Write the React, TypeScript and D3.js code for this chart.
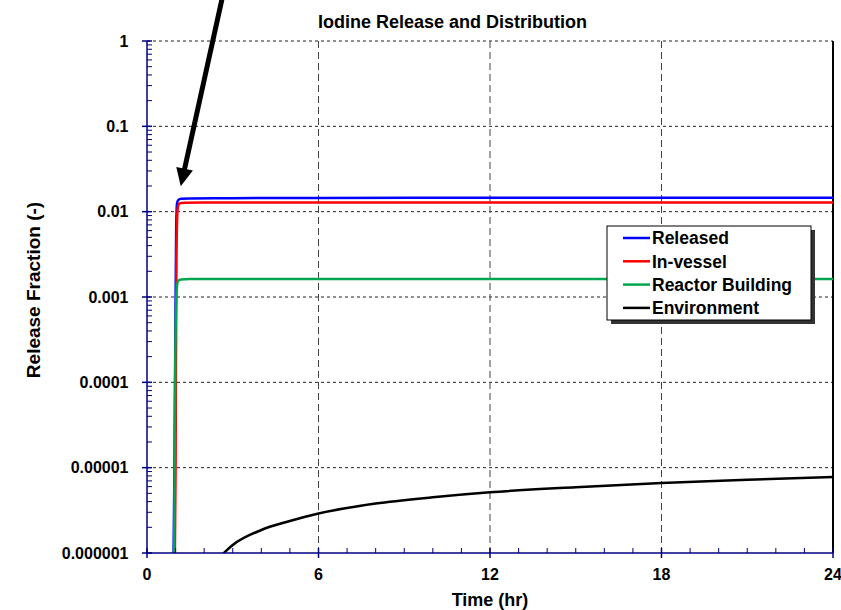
import React from "react";
import * as d3 from "d3";

const W = 841;
const H = 610;

const titleText = "Iodine Release and Distribution";
const xLabel = "Time (hr)";
const yLabel = "Release Fraction (-)";

const xTicks = [0, 6, 12, 18, 24];
const yTicks = [1, 0.1, 0.01, 0.001, 0.0001, 0.00001, 0.000001];
const yTickLabels = ["1", "0.1", "0.01", "0.001", "0.0001", "0.00001", "0.000001"];

const releasedT = [0.9, 0.96, 0.99, 1.02, 1.05, 1.1, 1.2, 1.5, 3, 6, 12, 24];
const releasedV = [1e-7, 1e-5, 3e-4, 0.006, 0.0125, 0.0138, 0.0142, 0.0143, 0.0144, 0.0145, 0.0146, 0.0146];

const inVesselT = [0.95, 1.0, 1.03, 1.07, 1.1, 1.15, 1.3, 2, 6, 12, 24];
const inVesselV = [1e-7, 1e-5, 3e-3, 0.0105, 0.012, 0.0125, 0.0127, 0.0128, 0.0128, 0.0128, 0.0128];

const buildingT = [0.9, 0.95, 0.99, 1.04, 1.09, 1.2, 1.5, 3, 24];
const buildingV = [1e-7, 1e-6, 2e-4, 0.0012, 0.00155, 0.0016, 0.00162, 0.00163, 0.00163];

const envT = [2.62, 3, 4, 5, 6, 8, 10, 12, 15, 18, 21, 24];
const envV = [0.95e-6, 1.24e-6, 1.86e-6, 2.37e-6, 2.9e-6, 3.8e-6, 4.5e-6, 5.15e-6, 5.9e-6, 6.6e-6, 7.2e-6, 7.75e-6];

const seriesNames = ["Released", "In-vessel", "Reactor Building", "Environment"];
const seriesColors = ["#0000ff", "#ff0000", "#00a650", "#000000"];

// annotation arrow (data units): start (off-chart) -> tip
const arrowFrom = { t: 2.62, v: 3.06 };
const arrowTo = { t: 1.18, v: 0.0198 };

const FONT = "'Liberation Sans', Arial, Helvetica, sans-serif";

export default function App() {
  const x = d3.scaleLinear().domain([0, 24]).range([147, 833]);
  const y = d3.scaleLog().domain([1e-6, 1]).range([553, 41]);
  const [x0, x1] = x.range();
  const [y0, y1] = [y(1), y(1e-6)];

  const series = [
    releasedT.map((t, i) => [t, releasedV[i]]),
    inVesselT.map((t, i) => [t, inVesselV[i]]),
    buildingT.map((t, i) => [t, buildingV[i]]),
    envT.map((t, i) => [t, envV[i]]),
  ];
  const line = d3
    .line<number[]>()
    .x((d) => x(d[0]))
    .y((d) => y(d[1]))
    .curve(d3.curveMonotoneX);

  const minorX = d3.range(0, 25, 1).filter((v) => v % 6 !== 0);
  const minorY: number[] = [];
  for (let e = -6; e < 0; e++) {
    for (let m = 2; m <= 9; m++) minorY.push(m * Math.pow(10, e));
  }

  // arrow geometry
  const ax0 = x(arrowFrom.t), ay0 = y(arrowFrom.v);
  const ax1 = x(arrowTo.t), ay1 = y(arrowTo.v);
  const dx = ax1 - ax0, dy = ay1 - ay0;
  const len = Math.hypot(dx, dy);
  const ux = dx / len, uy = dy / len;
  const headL = 18, headW = 8.5;
  const bx = ax1 - ux * headL, by = ay1 - uy * headL;
  const head = `${ax1},${ay1} ${bx - uy * headW},${by + ux * headW} ${bx + uy * headW},${by - ux * headW}`;

  const legX = 607, legY = 226, legW = 204, legH = 94;

  return (
    <svg
      width={W}
      height={H}
      style={{ position: "absolute", left: 0, top: 0, background: "#fff" }}
      fontFamily={FONT}
      fontWeight="bold"
    >
      <defs>
        <clipPath id="plot">
          <rect x={x0} y={y0 - 2} width={x1 - x0} height={y1 - y0 + 2} />
        </clipPath>
      </defs>
      <rect width={W} height={H} fill="#fff" />

      {/* horizontal gridlines */}
      {yTicks.slice(0, 6).map((v) => (
        <line key={"hg" + v} x1={x0} x2={x1} y1={y(v)} y2={y(v)} stroke="#222" strokeWidth={1} strokeDasharray="3,3" />
      ))}
      {/* vertical gridlines */}
      {xTicks.slice(1, 4).map((v) => (
        <line key={"vg" + v} x1={x(v)} x2={x(v)} y1={y0} y2={y1} stroke="#444" strokeWidth={1} strokeDasharray="7,4" />
      ))}
      {/* right border */}
      <line x1={x1} x2={x1} y1={y0} y2={y1} stroke="#000" strokeWidth={2} />

      {/* series */}
      <g clipPath="url(#plot)">
        {series.map((s, i) => (
          <path key={i} d={line(s as any) || ""} fill="none" stroke={seriesColors[i]} strokeWidth={2.5} />
        ))}
      </g>

      {/* axes */}
      <g stroke="#000080" strokeWidth={1.5}>
        <line x1={x0} x2={x0} y1={y0} y2={y1 + 1} />
        <line x1={x0 - 1} x2={x1} y1={y1} y2={y1} />
        {yTicks.map((v) => (
          <line key={"ym" + v} x1={x0 - 5} x2={x0 + 5} y1={y(v)} y2={y(v)} />
        ))}
        {minorY.map((v) => (
          <line key={"yn" + v} x1={x0} x2={x0 + 5} y1={y(v)} y2={y(v)} strokeWidth={1} />
        ))}
        {xTicks.map((v) => (
          <line key={"xm" + v} x1={x(v)} x2={x(v)} y1={y1 - 5} y2={y1 + 5} />
        ))}
        {minorX.map((v) => (
          <line key={"xn" + v} x1={x(v)} x2={x(v)} y1={y1 - 5} y2={y1} strokeWidth={1} />
        ))}
      </g>

      {/* tick labels */}
      {yTicks.map((v, i) => (
        <text key={"yl" + v} x={128.5} y={y(v)} dy="0.36em" textAnchor="end" fontSize={16}>
          {yTickLabels[i]}
        </text>
      ))}
      {xTicks.map((v) => (
        <text key={"xl" + v} x={x(v)} y={580} textAnchor="middle" fontSize={16}>
          {v}
        </text>
      ))}

      {/* titles */}
      <text x={452.5} y={27.5} textAnchor="middle" fontSize={18}>
        {titleText}
      </text>
      <text x={490} y={606} textAnchor="middle" fontSize={18}>
        {xLabel}
      </text>
      <text transform={`translate(40,290) rotate(-90)`} textAnchor="middle" fontSize={19}>
        {yLabel}
      </text>

      {/* legend */}
      <rect x={legX + 4} y={legY + 4} width={legW} height={legH} fill="#333" />
      <rect x={legX} y={legY} width={legW} height={legH} fill="#fff" stroke="#000" strokeWidth={1} />
      {seriesNames.map((n, i) => {
        const ly = legY + 12 + i * 23.3;
        return (
          <g key={n}>
            <line x1={legX + 16} x2={legX + 43} y1={ly} y2={ly} stroke={seriesColors[i]} strokeWidth={2.5} />
            <text x={legX + 45} y={ly} dy="0.36em" fontSize={17.5}>
              {n}
            </text>
          </g>
        );
      })}

      {/* annotation arrow */}
      <line x1={ax0} y1={ay0} x2={bx + ux * 2} y2={by + uy * 2} stroke="#000" strokeWidth={5} />
      <polygon points={head} fill="#000" />
    </svg>
  );
}
